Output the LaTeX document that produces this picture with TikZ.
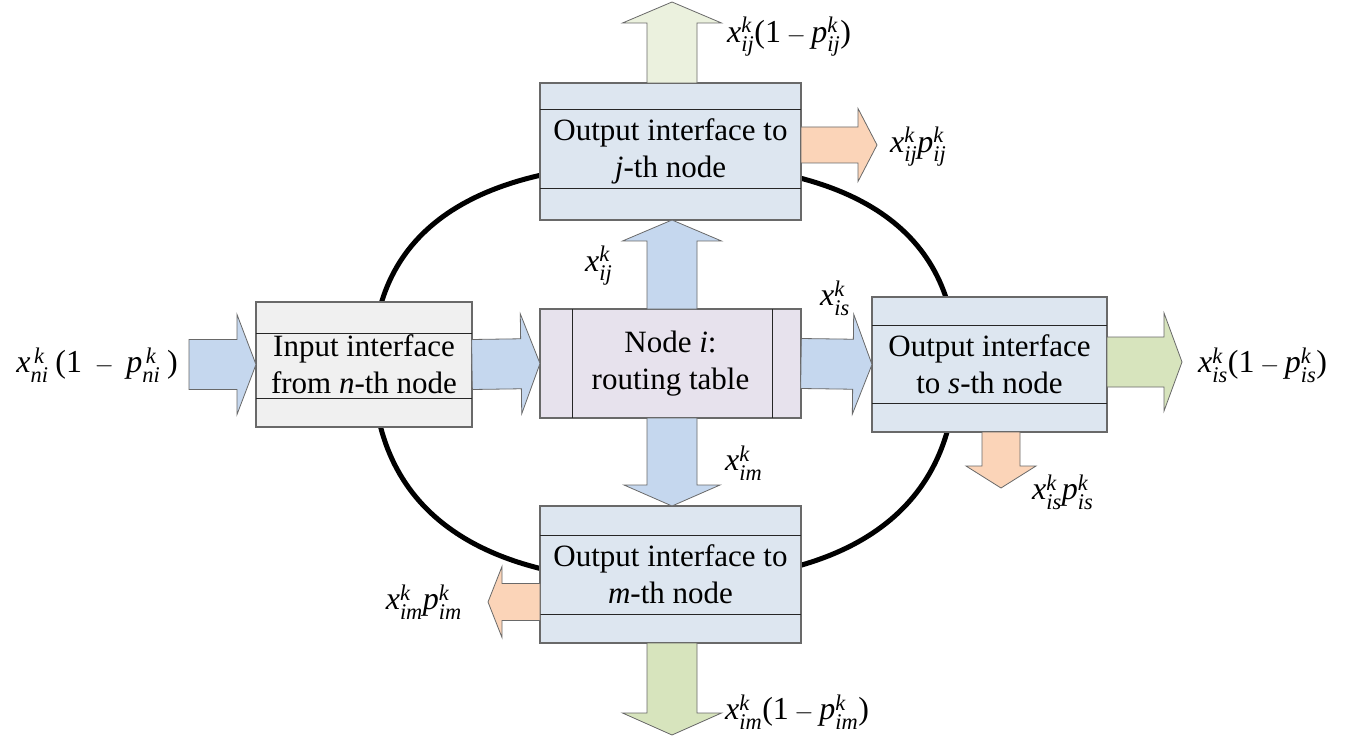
\documentclass[tikz,border=0pt]{standalone}
\usepackage{amsmath}
\usepackage{fontspec}
\setmainfont{Liberation Serif}
\usetikzlibrary{calc}
\definecolor{boxblue}{RGB}{221,230,240}
\definecolor{boxgray}{RGB}{240,240,240}
\definecolor{boxlav}{RGB}{231,226,237}
\definecolor{arrblue}{RGB}{197,215,238}
\definecolor{arrorange}{RGB}{251,212,184}
\definecolor{arrgreen}{RGB}{215,228,189}
\definecolor{arrlgreen}{RGB}{235,241,222}
\definecolor{edgegray}{RGB}{105,105,105}
\newcommand\V[1]{\textit{#1}}
% block arrow: style, from, to, half shaft, half head, head length
\newcommand\blockarr[6]{%
  \coordinate (ba) at (#2);
  \coordinate (bb) at (#3);
  \coordinate (bh) at ($(bb)!#6!(ba)$);
  \draw[#1] ($(ba)!#4!90:(bb)$) -- ($(bh)!#4!-90:(ba)$) -- ($(bh)!#5!-90:(ba)$)
    -- (bb) -- ($(bh)!#5!90:(ba)$) -- ($(bh)!#4!90:(ba)$) -- ($(ba)!#4!-90:(bb)$) -- cycle;}
\tikzset{
  ifbox/.style={draw=edgegray, line width=1.2pt, inner sep=0pt, outer sep=0pt, align=center,
    font=\fontsize{31}{37}\selectfont},
  outbox/.style={ifbox, fill=boxblue, minimum width=261pt, minimum height=137pt},
  sepline/.style={line width=1pt, black!85},
  ring/.style={line width=5pt, black},
  arr/.style={draw=edgegray, line width=0.8pt, line join=miter},
  blue arr/.style={arr, fill=arrblue},
  orange arr/.style={arr, fill=arrorange},
  green arr/.style={arr, fill=arrgreen},
  lgreen arr/.style={arr, fill=arrlgreen},
  lab/.style={inner sep=0pt, font=\fontsize{32}{38}\selectfont}
}
\begin{document}
\begin{tikzpicture}[x=1pt,y=-1pt]
\useasboundingbox[fill=white] (0,0) rectangle (1363,738);

% ring behind the boxes
\draw[ring] (373,364) .. controls (373,230) and (475,163) .. (664.5,163)
  .. controls (854,163) and (956,230) .. (956,364)
  .. controls (956,508) and (854,582) .. (664.5,582)
  .. controls (475,582) and (373,508) .. (373,364) -- cycle;

% boxes
\node[outbox] (j) at (670.5,151.5) {Output interface to\\\V{j}-th node};
\node[outbox] (m) at (670.5,574.5) {Output interface to\\\V{m}-th node};
\node[ifbox, fill=boxblue, minimum width=235pt, minimum height=135pt] (s) at (989.5,364.5) {Output interface\\to \V{s}-th node};
\node[ifbox, fill=boxgray, minimum width=216pt, minimum height=125pt] (in) at (364,364.5) {Input interface\\from \V{n}-th node};
\node[ifbox, fill=boxlav, minimum width=261pt, minimum height=109pt] (rt) at (670.5,363.5) {Node \V{i}:\\routing table};

% separator lines
\draw[sepline] ($(j.north west)+(0,27)$) -- ($(j.north east)+(0,27)$);
\draw[sepline] ($(j.south west)+(0,-31)$) -- ($(j.south east)+(0,-31)$);
\draw[sepline] ($(m.north west)+(0,29)$) -- ($(m.north east)+(0,29)$);
\draw[sepline] ($(m.south west)+(0,-29)$) -- ($(m.south east)+(0,-29)$);
\draw[sepline] ($(s.north west)+(0,28)$) -- ($(s.north east)+(0,28)$);
\draw[sepline] ($(s.south west)+(0,-29)$) -- ($(s.south east)+(0,-29)$);
\draw[sepline] ($(in.north west)+(0,31)$) -- ($(in.north east)+(0,31)$);
\draw[sepline] ($(in.south west)+(0,-29)$) -- ($(in.south east)+(0,-29)$);
\draw[sepline] ($(rt.north west)+(32,0)$) -- ($(rt.south west)+(32,0)$);
\draw[sepline] ($(rt.north east)+(-29,0)$) -- ($(rt.south east)+(-29,0)$);

% free ends
\coordinate (inL) at (189,364.5);
\coordinate (jtop) at (672,2);
\coordinate (jR) at (877,145);
\coordinate (sR) at (1182,362);
\coordinate (sD) at (1001,488);
\coordinate (mL) at (488,602);
\coordinate (mD) at (672,735);

% block arrows
\blockarr{blue arr}{inL}{in.west}{25pt}{50pt}{19pt}
\blockarr{blue arr}{in.east}{rt.west}{25pt}{50pt}{19pt}
\blockarr{blue arr}{rt.east}{s.west}{25pt}{50pt}{19pt}
\blockarr{blue arr}{rt.north -| jtop}{j.south -| jtop}{25pt}{49.5pt}{21pt}
\blockarr{blue arr}{rt.south -| jtop}{m.north -| jtop}{25pt}{48pt}{21pt}
\blockarr{lgreen arr}{j.north -| jtop}{jtop}{25pt}{49.5pt}{21pt}
\blockarr{orange arr}{j.east |- jR}{jR}{18pt}{36.5pt}{19pt}
\blockarr{green arr}{s.east |- sR}{sR}{25pt}{49pt}{18pt}
\blockarr{orange arr}{s.south -| sD}{sD}{19pt}{35pt}{22pt}
\blockarr{orange arr}{m.west |- mL}{mL}{18.5pt}{35.5pt}{14pt}
\blockarr{green arr}{m.south -| mD}{mD}{25pt}{49.5pt}{22pt}

% labels
\node[lab, anchor=east] (l_ni) at (178,365) {$\V{x}^{\,\V{k}}_{\V{ni}}\;\text{(1}\;-\;\V{p}^{\,\V{k}}_{\V{ni}}\;\text{)}$};
\node[lab, anchor=west] (l_top) at (727,37) {$\V{x}^{\V{k}}_{\V{ij}}\text{(1}-\V{p}^{\V{k}}_{\V{ij}}\text{)}$};
\node[lab, anchor=west] (l_jo) at (890,147) {$\V{x}^{\V{k}}_{\V{ij}}\V{p}^{\V{k}}_{\V{ij}}$};
\node[lab, anchor=west] (l_ij) at (585,266) {$\V{x}^{\V{k}}_{\V{ij}}$};
\node[lab, anchor=west] (l_is) at (820,298) {$\V{x}^{\V{k}}_{\V{is}}$};
\node[lab, anchor=west] (l_im) at (725,463) {$\V{x}^{\V{k}}_{\V{im}}$};
\node[lab, anchor=west] (l_sg) at (1198,365) {$\V{x}^{\V{k}}_{\V{is}}\text{(1}-\V{p}^{\V{k}}_{\V{is}}\text{)}$};
\node[lab, anchor=west] (l_so) at (1032,492) {$\V{x}^{\V{k}}_{\V{is}}\V{p}^{\V{k}}_{\V{is}}$};
\node[lab, anchor=east] (l_mo) at (462,602) {$\V{x}^{\V{k}}_{\V{im}}\V{p}^{\V{k}}_{\V{im}}$};
\node[lab, anchor=west] (l_mg) at (725,712) {$\V{x}^{\V{k}}_{\V{im}}\text{(1}-\V{p}^{\V{k}}_{\V{im}}\text{)}$};
\end{tikzpicture}
\end{document}
